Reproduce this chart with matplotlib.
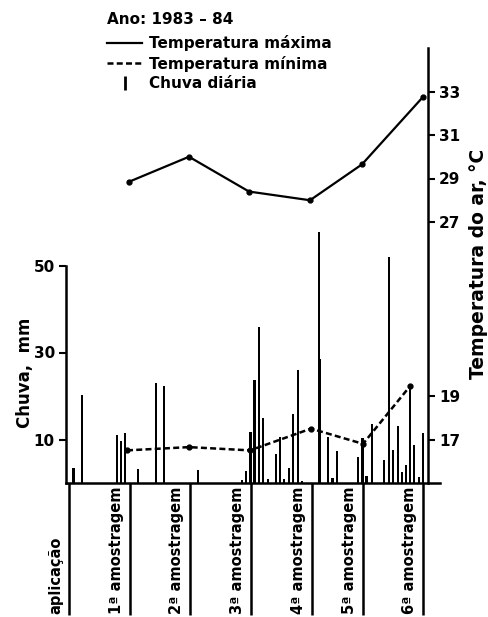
import matplotlib
matplotlib.use("Agg")
import matplotlib.pyplot as plt
from matplotlib.lines import Line2D

# ---------------- data ----------------
# daily rainfall (days after application, mm)
rain_days = [1.1, 3.25, 11.9, 13.1, 14.0, 17.3, 21.75, 23.8, 32.3, 43.3, 44.2,
             45.4, 46.4, 47.4, 48.6, 49.7, 51.7, 52.8, 53.8, 55.0, 56.1, 57.2,
             58.3, 62.5, 62.8, 64.7, 65.9, 67.1, 72.3, 73.4, 74.4, 75.8, 78.8,
             80.0, 81.1, 82.2, 83.2, 84.2, 85.25, 86.3, 87.5, 88.6]
rain_mm = [3.4, 20.2, 11.0, 9.7, 11.5, 3.2, 23.0, 22.3, 3.0, 0.8, 2.7,
           11.7, 23.7, 35.8, 14.9, 0.9, 6.7, 10.5, 0.9, 3.4, 15.8, 26.0,
           0.5, 57.8, 28.5, 10.5, 1.1, 7.4, 6.0, 10.3, 1.5, 13.6, 5.3,
           51.9, 7.7, 13.0, 2.6, 4.1, 22.2, 8.7, 1.3, 11.4]

# sampling events
event_days = [0, 15.25, 30.25, 45.5, 60.75, 73.5, 88.5]
event_labels = ["aplicação", "1ª amostragem", "2ª amostragem", "3ª amostragem",
                "4ª amostragem", "5ª amostragem", "6ª amostragem"]

# air temperature (°C)
tmax_days = [15, 30, 45, 60.25, 73.25, 88.5]
tmax = [28.85, 30.0, 28.4, 28.0, 29.65, 32.75]
tmin_days = [14.5, 30, 45.25, 60.5, 73.5, 85.25]
tmin = [16.5, 16.65, 16.5, 17.5, 16.8, 19.45]

rain_ticks = [10, 30, 50]
temp_ticks = [17, 19, 27, 29, 31, 33]

# ---------------- layout ----------------
W, H = 488, 617
def fx(px): return px / W
def fy(py): return 1 - py / H

plt.rcParams['font.family'] = ['DejaVu Sans']
plt.rcParams['font.weight'] = 'bold'

fig = plt.figure(figsize=(W / 100, H / 100), dpi=100)
ax = fig.add_axes([fx(66), fy(483), fx(440) - fx(66), fy(48) - fy(483)])
ax.set_xlim(-0.75, 92.75)
ax.set_ylim(0, 100)

ax.bar(rain_days, rain_mm, width=0.55, color='black', linewidth=0, zorder=2)

for s in ['top', 'right']:
    ax.spines[s].set_visible(False)
ax.spines['left'].set_bounds(0, 50)
ax.spines['left'].set_linewidth(1.8)
ax.spines['bottom'].set_linewidth(1.8)
ax.set_xticks([])
ax.set_yticks(rain_ticks)
ax.tick_params(axis='y', direction='out', length=5, width=1.5,
               labelsize=11, pad=3)

# separators below the baseline and event labels
ax.vlines(event_days, 0, -0.304, transform=ax.get_xaxis_transform(),
          clip_on=False, colors='black', lw=1.8)
for d, lab in zip(event_days, event_labels):
    ax.text(d - 3.3, -0.301, lab, rotation=90, ha='center', va='bottom',
            fontsize=10.5, fontweight='bold',
            transform=ax.get_xaxis_transform(), clip_on=False)

# temperature axis
ax2 = ax.twinx()
ax2.set_ylim(15, 35)
for s in ['top', 'left', 'bottom']:
    ax2.spines[s].set_visible(False)
ax2.spines['right'].set_position(('data', 89.75))
ax2.spines['right'].set_linewidth(1.8)
ax2.set_yticks(temp_ticks)
ax2.tick_params(axis='y', direction='out', length=5, width=1.5,
                labelsize=11, pad=3)

ax2.plot(tmax_days, tmax, color='black', lw=1.6, marker='o', ms=3.5)
ax2.plot(tmin_days, tmin, color='black', lw=1.8, ls=(0, (2.4, 1.3)),
         marker='o', ms=3.5)

fig.text(fx(25), fy(373), "Chuva,  mm", rotation=90, ha='center',
         va='center', fontsize=12, fontweight='bold')
fig.text(fx(478), fy(264), "Temperatura do ar, °C", rotation=90,
         ha='center', va='center', fontsize=13.5, fontweight='bold')

handles = [Line2D([], [], color='black', lw=1.6),
           Line2D([], [], color='black', lw=1.8, ls=(0, (2.4, 1.3))),
           Line2D([], [], color='black', ls='none', marker='|', ms=10,
                  mew=2)]
labels = ["Temperatura máxima", "Temperatura mínima", "Chuva diária"]
leg = fig.legend(handles, labels, title="Ano: 1983 – 84", loc='upper left',
                 bbox_to_anchor=(fx(107), fy(12)), frameon=False,
                 fontsize=11, title_fontsize=11, alignment='left',
                 handlelength=2.3, handletextpad=0.45, labelspacing=0.28,
                 borderpad=0, borderaxespad=0)
leg.get_title().set_fontweight('bold')
leg._legend_box.sep = 6

fig.savefig("out.png", dpi=100)
